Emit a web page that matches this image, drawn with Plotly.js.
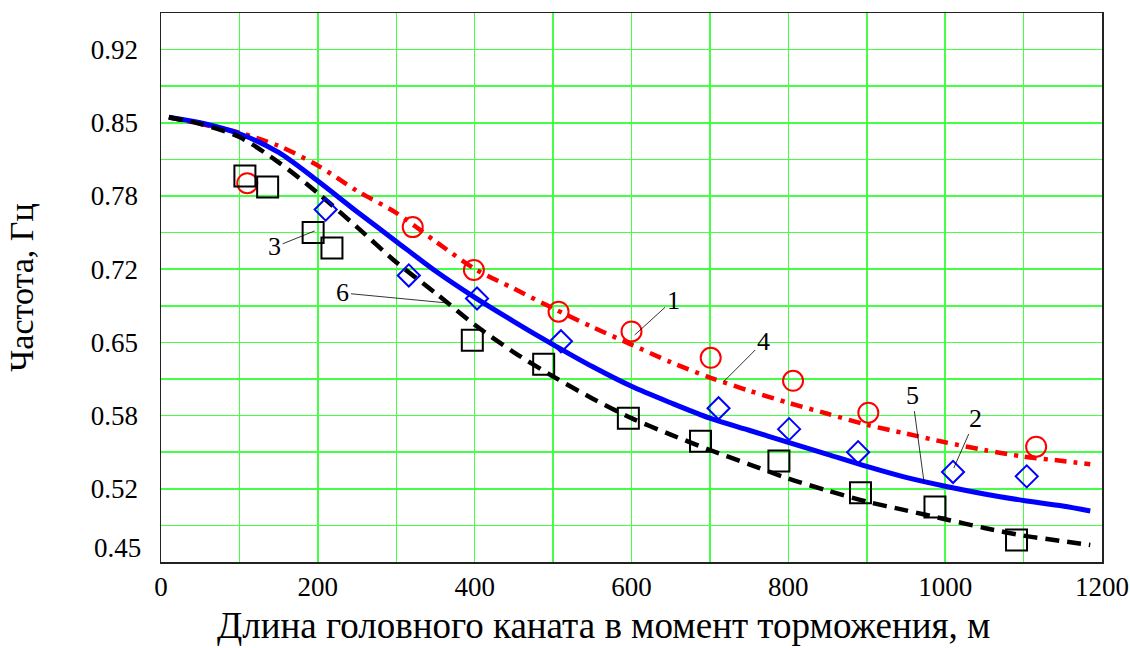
<!DOCTYPE html>
<html>
<head>
<meta charset="utf-8">
<script src="https://cdn.plot.ly/plotly-3.0.1.min.js"></script>
<style>html,body{margin:0;padding:0;background:#fff;}#chart{width:1130px;height:648px;}</style>
</head>
<body>
<div id="chart"></div>
<script>
// Experimental points
const circX = [110, 321, 399, 507, 600, 701, 806, 902, 1116];
const circY = [0.795, 0.755, 0.716, 0.678, 0.660, 0.636, 0.615, 0.586, 0.555];
const diamX = [210, 316, 403, 510, 711, 801, 889, 1010, 1104];
const diamY = [0.771, 0.711, 0.690, 0.651, 0.590, 0.571, 0.550, 0.532, 0.528];
const sqX = [107, 136, 194, 218, 397, 488, 596, 688, 788, 892, 987, 1091];
const sqY = [0.8015, 0.7915, 0.750, 0.736, 0.652, 0.630, 0.581, 0.560, 0.542, 0.513, 0.500, 0.470];

// Calculated curves
const curveX = [10, 50, 100, 150, 200, 250, 300, 350, 400, 450, 500, 550, 600, 650, 700, 750, 800, 850, 900, 950, 1000, 1050, 1100, 1150, 1185];
const redY = [0.855, 0.849, 0.841, 0.829, 0.811, 0.788, 0.768, 0.742, 0.717, 0.699, 0.681, 0.664, 0.648, 0.632, 0.618, 0.606, 0.595, 0.585, 0.575, 0.567, 0.559, 0.552, 0.546, 0.542, 0.539];
const blueY = [0.855, 0.850, 0.840, 0.823, 0.797, 0.769, 0.742, 0.715, 0.691, 0.669, 0.648, 0.628, 0.610, 0.595, 0.581, 0.570, 0.559, 0.548, 0.537, 0.527, 0.519, 0.512, 0.506, 0.501, 0.4965];
const blackY = [0.855, 0.849, 0.837, 0.814, 0.786, 0.755, 0.723, 0.695, 0.666, 0.641, 0.619, 0.599, 0.581, 0.566, 0.552, 0.539, 0.526, 0.515, 0.505, 0.497, 0.489, 0.481, 0.474, 0.469, 0.4655];

// Axis ticks and titles
const xTickVals = [0, 200, 400, 600, 800, 1000, 1200];
const xTickText = ['0', '200', '400', '600', '800', '1000', '1200'];
const yTickVals = [0.45, 0.45 + 2/30, 0.45 + 4/30, 0.45 + 6/30, 0.45 + 8/30, 0.45 + 10/30, 0.45 + 12/30, 0.45 + 14/30];
const yTickText = ['', '0.52', '0.58', '0.65', '0.72', '0.78', '0.85', '0.92'];
const yBottomLabel = '0.45';
const xTitle = 'Длина головного каната в момент торможения, м';
const yTitle = 'Частота, Гц';

// Curve labels: text, tail (text) position, head position
const labelText = ['1', '4', '5', '2', '3', '6'];
const labelTailX = [653, 768, 958, 1039, 145, 232];
const labelTailY = [0.6886, 0.6504, 0.602, 0.5811, 0.7369, 0.695];
const labelHeadX = [604, 717, 973, 1011, 196, 365];
const labelHeadY = [0.6567, 0.6139, 0.5229, 0.5356, 0.7515, 0.6859];

const FONT = '"Liberation Serif", "Times New Roman", serif';

const traces = [
  {x: curveX, y: redY, mode: 'lines', line: {color: '#ff0000', width: 4.5, dash: '12px,7px,4px,7px', shape: 'spline', smoothing: 0.8}, hoverinfo: 'skip'},
  {x: curveX, y: blueY, mode: 'lines', line: {color: '#0000ff', width: 5, shape: 'spline', smoothing: 0.8}, hoverinfo: 'skip'},
  {x: curveX, y: blackY, mode: 'lines', line: {color: '#000000', width: 4.5, dash: '14px,8px', shape: 'spline', smoothing: 0.8}, hoverinfo: 'skip'},
  {x: circX, y: circY, mode: 'markers', marker: {symbol: 'circle-open', size: 20, color: '#ff0000', line: {width: 2, color: '#ff0000'}}},
  {x: diamX, y: diamY, mode: 'markers', marker: {symbol: 'diamond-open', size: 17, color: '#0000ff', line: {width: 2, color: '#0000ff'}}},
  {x: sqX, y: sqY, mode: 'markers', marker: {symbol: 'square-open', size: 21, color: '#000000', line: {width: 2, color: '#000000'}}}
];

const annotations = labelText.map((t, i) => ({
  x: labelHeadX[i], y: labelHeadY[i], xref: 'x', yref: 'y',
  ax: labelTailX[i], ay: labelTailY[i], axref: 'x', ayref: 'y',
  text: t, showarrow: true, arrowhead: 0, arrowwidth: 0.8, arrowcolor: '#000',
  standoff: 0, startstandoff: 0,
  font: {family: FONT, size: 26, color: '#000'}
}));
annotations.push({
  x: 0, y: 0.45, xref: 'paper', yref: 'y', xanchor: 'right', yanchor: 'middle',
  xshift: -18, yshift: 14, showarrow: false, text: yBottomLabel,
  font: {family: FONT, size: 27, color: '#000'}
});
annotations.push({
  x: 0.4708, y: -0.1157, xref: 'paper', yref: 'paper', xanchor: 'center', yanchor: 'middle',
  showarrow: false, text: xTitle,
  font: {family: FONT, size: 37, color: '#000'}
});

const layout = {
  width: 1130, height: 648,
  margin: {l: 161, r: 28, t: 13, b: 86},
  paper_bgcolor: '#ffffff', plot_bgcolor: '#ffffff',
  showlegend: false,
  font: {family: FONT, color: '#000'},
  xaxis: {
    range: [0, 1200], tickvals: xTickVals, ticktext: xTickText, ticks: '',
    showgrid: true, gridcolor: '#44ff44', gridwidth: 1.5,
    minor: {dtick: 100, tick0: 0, showgrid: true, gridcolor: '#44ff44', gridwidth: 1.5},
    zeroline: false, showline: true, linecolor: '#222', linewidth: 1.5, mirror: true,
    tickfont: {family: FONT, size: 27, color: '#000'}, ticklabelstandoff: 0
  },
  yaxis: {
    range: [0.45, 0.95], tickvals: yTickVals, ticktext: yTickText,
    ticks: 'outside', ticklen: 16, tickcolor: 'rgba(0,0,0,0)',
    showgrid: false,
    minor: {dtick: 1/30, tick0: 0.45, showgrid: true, gridcolor: '#44ff44', gridwidth: 1.5},
    zeroline: false, showline: true, linecolor: '#222', linewidth: 1.5, mirror: true,
    tickfont: {family: FONT, size: 27, color: '#000'},
    title: {text: yTitle, font: {family: FONT, size: 34, color: '#000'}, standoff: 47}
  },
  annotations: annotations
};

Plotly.newPlot('chart', traces, layout, {staticPlot: true, displayModeBar: false});
</script>
</body>
</html>
